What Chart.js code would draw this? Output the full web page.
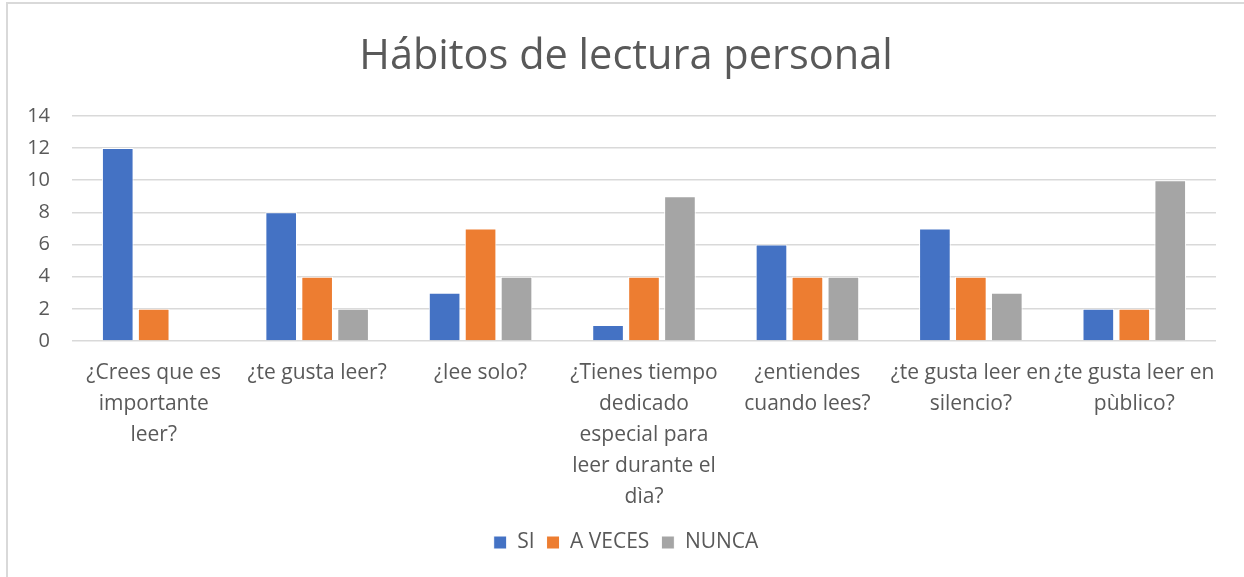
<!DOCTYPE html>
<html>
<head>
<meta charset="utf-8">
<script src="https://cdn.jsdelivr.net/npm/chart.js@4"></script>
<style>
  html, body { margin: 0; padding: 0; background: #fff; overflow: hidden; }
  #wrap { position: absolute; left: 0; top: 0; width: 1244px; height: 577px; }
  #frame { position: absolute; left: 6px; top: 2px; width: 1300px; height: 700px;
           border: 2px solid #d9d9d9; box-sizing: border-box; pointer-events: none; }
</style>
</head>
<body>
<div id="wrap"><canvas id="habitsChart" width="1244" height="577"></canvas></div>
<div id="frame"></div>
<script>
const categories = [
    ['¿Crees que es', 'importante', 'leer?'],
    ['¿te gusta leer?'],
    ['¿lee solo?'],
    ['¿Tienes tiempo', 'dedicado', 'especial para', 'leer durante el', 'dìa?'],
    ['¿entiendes', 'cuando lees?'],
    ['¿te gusta leer en', 'silencio?'],
    ['¿te gusta leer en', 'pùblico?']
];
const siValues = [12, 8, 3, 1, 6, 7, 2];
const aVecesValues = [2, 4, 7, 4, 4, 4, 2];
const nuncaValues = [0, 2, 4, 9, 4, 3, 10];
const yTicks = [0, 2, 4, 6, 8, 10, 12, 14];

const FONT = "'Open Sans', sans-serif";
const TEXT = '#595959';

function bars(label, data, color) {
    return {
        label: label,
        data: data,
        backgroundColor: color,
        borderColor: '#ffffff',
        borderWidth: 1,
        categoryPercentage: 0.66,
        barPercentage: 0.88
    };
}

// title and legend sit centred on the original (wider) frame, a bit right of the canvas centre
const shiftBoxes = {
    id: 'shiftBoxes',
    afterLayout: function (chart) {
        if (chart.titleBlock) chart.titleBlock.left += 36;
        if (chart.legend) chart.legend.left += 36;
    }
};

document.addEventListener("DOMContentLoaded", function () {
    const ctx = document.getElementById('habitsChart').getContext('2d');
    new Chart(ctx, {
        type: 'bar',
        data: {
            labels: categories,
            datasets: [
                bars('SI', siValues, '#4472C4'),
                bars('A VECES', aVecesValues, '#ED7D31'),
                bars('NUNCA', nuncaValues, '#A5A5A5')
            ]
        },
        plugins: [shiftBoxes],
        options: {
            responsive: false,
            animation: false,
            layout: { padding: { left: 0, right: 28, top: 0, bottom: 14 } },
            plugins: {
                title: {
                    display: true,
                    text: 'Hábitos de lectura personal',
                    color: TEXT,
                    font: { family: FONT, size: 41.5, weight: 'normal' },
                    padding: { top: 32, bottom: 34 }
                },
                legend: {
                    position: 'bottom',
                    labels: {
                        color: TEXT,
                        font: { family: FONT, size: 21 },
                        boxWidth: 13,
                        boxHeight: 13,
                        padding: 12
                    }
                },
                tooltip: { enabled: false }
            },
            scales: {
                x: {
                    grid: { display: false, drawTicks: false },
                    border: { display: false },
                    ticks: {
                        color: TEXT,
                        font: { family: FONT, size: 21, lineHeight: 1.476 },
                        maxRotation: 0,
                        autoSkip: false,
                        padding: 17
                    },
                    afterFit: function (scale) { scale.height = 179; }
                },
                y: {
                    min: 0,
                    max: 14,
                    afterBuildTicks: function (scale) {
                        scale.ticks = yTicks.map(function (v) { return { value: v }; });
                    },
                    grid: { color: '#d9d9d9', lineWidth: 1.5, drawTicks: false },
                    border: { display: false },
                    ticks: {
                        color: TEXT,
                        font: { family: FONT, size: 20 },
                        padding: 22
                    },
                    afterFit: function (scale) { scale.width = 72; }
                }
            }
        }
    });
});
</script>
</body>
</html>
